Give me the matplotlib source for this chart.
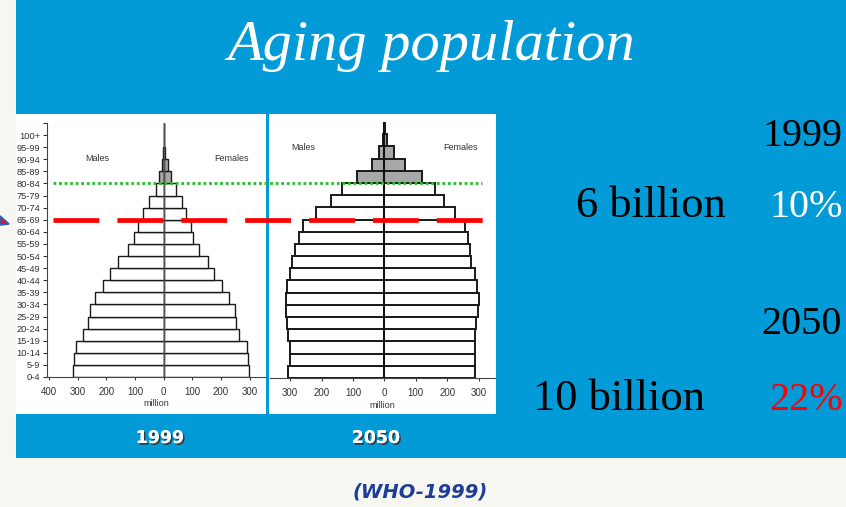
import matplotlib
matplotlib.use("Agg")
import matplotlib.pyplot as plt
from matplotlib.patches import Rectangle, Polygon
from matplotlib.lines import Line2D
from matplotlib.transforms import blended_transform_factory
import matplotlib.patheffects as pe

# Age groups, bottom to top
ages = ['0-4', '5-9', '10-14', '15-19', '20-24', '25-29', '30-34', '35-39',
        '40-44', '45-49', '50-54', '55-59', '60-64', '65-69', '70-74',
        '75-79', '80-84', '85-89', '90-94', '95-99', '100+']

# Population in millions
males_1999 = [317, 313, 307, 280, 264, 258, 238, 210, 186, 158, 123,
              102, 90, 71, 50, 28, 17, 7, 2, 0.5, 0.2]
females_1999 = [299, 295, 290, 264, 252, 249, 229, 202, 177, 156, 123,
                103, 94, 78, 63, 42, 24, 14, 3, 1, 0.3]
males_2050 = [306, 301, 301, 306, 309, 314, 314, 309, 301, 293, 283,
              271, 259, 218, 171, 134, 86, 40, 16, 3, 1]
females_2050 = [287, 287, 287, 287, 293, 298, 300, 295, 287, 277, 271,
                266, 257, 226, 191, 162, 119, 66, 30, 7, 2]

ticks_1999 = [-400, -300, -200, -100, 0, 100, 200, 300]
ticks_2050 = [-300, -200, -100, 0, 100, 200, 300]

old_start = 16   # 80-84 and up shaded grey
age_65 = 13
age_80 = 16

W, H = 846, 507
BLUE = '#029bd7'

fig = plt.figure(figsize=(W / 100, H / 100), dpi=100)
fig.patch.set_facecolor('#f7f7f1')

# background canvas in pixel units
bg = fig.add_axes([0, 0, 1, 1])
bg.set_xlim(0, W)
bg.set_ylim(H, 0)
bg.axis('off')
bg.add_patch(Rectangle((16, 0), W - 16, 458, color=BLUE, lw=0))
bg.add_patch(Rectangle((16, 114), 250, 300, color='white', lw=0))
bg.add_patch(Rectangle((269, 114), 227, 300, color='white', lw=0))
bg.add_patch(Polygon([(0, 216), (9, 224), (0, 225)], closed=True,
                     facecolor='#e8141c', edgecolor='#2e5fb8', lw=1.2))

bg.text(431, 60, 'Aging population', color='white', fontsize=42,
        family='Liberation Serif', style='italic', ha='center', va='baseline')

serif = 'Liberation Serif'
bg.text(842, 146, '1999', fontsize=29, family=serif, ha='right', va='baseline')
bg.text(726, 217, '6 billion', fontsize=32, family=serif, ha='right', va='baseline')
bg.text(843, 217, '10%', fontsize=29, family=serif, color='white',
        ha='right', va='baseline')
bg.text(842, 334, '2050', fontsize=29, family=serif, ha='right', va='baseline')
bg.text(705, 410, '10 billion', fontsize=32, family=serif, ha='right', va='baseline')
bg.text(843, 410, '22%', fontsize=29, family=serif, color='#ff0000',
        ha='right', va='baseline')

shadow = [pe.withSimplePatchShadow(offset=(1.2, -1.2), shadow_rgbFace='#333333',
                                   alpha=0.9), pe.Normal()]
for xc, yr in [(160, '1999'), (376, '2050')]:
    bg.text(xc, 438, yr, color='white', fontsize=12.5, fontweight='bold',
            family='DejaVu Sans', ha='center', va='center', path_effects=shadow)

bg.text(420, 492, '(WHO-1999)', color='#1e3d99', fontsize=14, fontweight='bold',
        style='italic', family='DejaVu Sans', ha='center', va='center')


def px_axes(x0, y0, x1, y1):
    return fig.add_axes([x0 / W, 1 - y1 / H, (x1 - x0) / W, (y1 - y0) / H])


def pyramid(ax, males, females, lw, zero_color, zero_lw):
    y = list(range(len(ages)))
    fills = ['#a8a8a8' if i >= old_start else 'white' for i in y]
    ax.barh(y, [-m for m in males], height=1, align='edge', color=fills,
            edgecolor='#1a1a1a', linewidth=lw, zorder=2)
    ax.barh(y, females, height=1, align='edge', color=fills,
            edgecolor='#1a1a1a', linewidth=lw, zorder=2)
    ax.axvline(0, color=zero_color, lw=zero_lw, zorder=3)
    ax.set_ylim(0, len(ages))
    ax.patch.set_alpha(0)
    for s in ['top', 'right']:
        ax.spines[s].set_visible(False)
    ax.spines['bottom'].set_color('#444444')
    ax.spines['left'].set_color('#444444')
    ax.set_xlabel('million', fontsize=6.5, color='#333333', labelpad=2,
                  family='Liberation Sans')
    ax.tick_params(axis='x', labelsize=7, colors='#333333', length=2, pad=5)


# 1999 pyramid
ax1 = px_axes(47, 123, 266, 377)
pyramid(ax1, males_1999, females_1999, 1.0, '#555555', 1.0)
ax1.set_xlim(-407, 357)
ax1.set_xticks(ticks_1999)
ax1.set_xticklabels([str(abs(t)) for t in ticks_1999], family='Liberation Sans')
ax1.set_yticks(range(len(ages) + 1))
ax1.set_yticklabels(ages + [''], fontsize=6.7, family='Liberation Sans',
                    color='#333333')
ax1.tick_params(axis='y', length=3, pad=2, colors='#333333')
ax1.text(-233, 18.1, 'Males', fontsize=6.5, color='#333333', ha='center',
         va='center', family='Liberation Sans')
ax1.text(238, 18.1, 'Females', fontsize=6.5, color='#333333', ha='center',
         va='center', family='Liberation Sans')

# 2050 pyramid
ax2 = px_axes(270, 122, 495, 378)
pyramid(ax2, males_2050, females_2050, 1.4, '#111111', 1.5)
ax2.set_xlim(-364, 352)
ax2.set_xticks(ticks_2050)
ax2.set_xticklabels([str(abs(t)) for t in ticks_2050], family='Liberation Sans')
ax2.spines['left'].set_visible(False)
ax2.set_yticks([])
ax2.text(-259, 18.9, 'Males', fontsize=6.5, color='#333333', ha='center',
         va='center', family='Liberation Sans')
ax2.text(241, 18.9, 'Females', fontsize=6.5, color='#333333', ha='center',
         va='center', family='Liberation Sans')

# markers across both pyramids at ages 65 and 80
tr = blended_transform_factory(bg.transData, ax1.transData)
lw_red = 3.4
fig.add_artist(Line2D([53, 483], [age_65, age_65], transform=tr, color='#ff0000',
                      lw=lw_red, dashes=(33 / lw_red, 13 / lw_red),
                      solid_capstyle='butt', dash_capstyle='butt', zorder=5))
lw_green = 2.0
fig.add_artist(Line2D([53, 482], [age_80, age_80], transform=tr, color='#22c022',
                      lw=lw_green, dashes=(1.0, 1.0), dash_capstyle='butt',
                      zorder=5))

fig.savefig('out.png', dpi=100, facecolor=fig.get_facecolor())
